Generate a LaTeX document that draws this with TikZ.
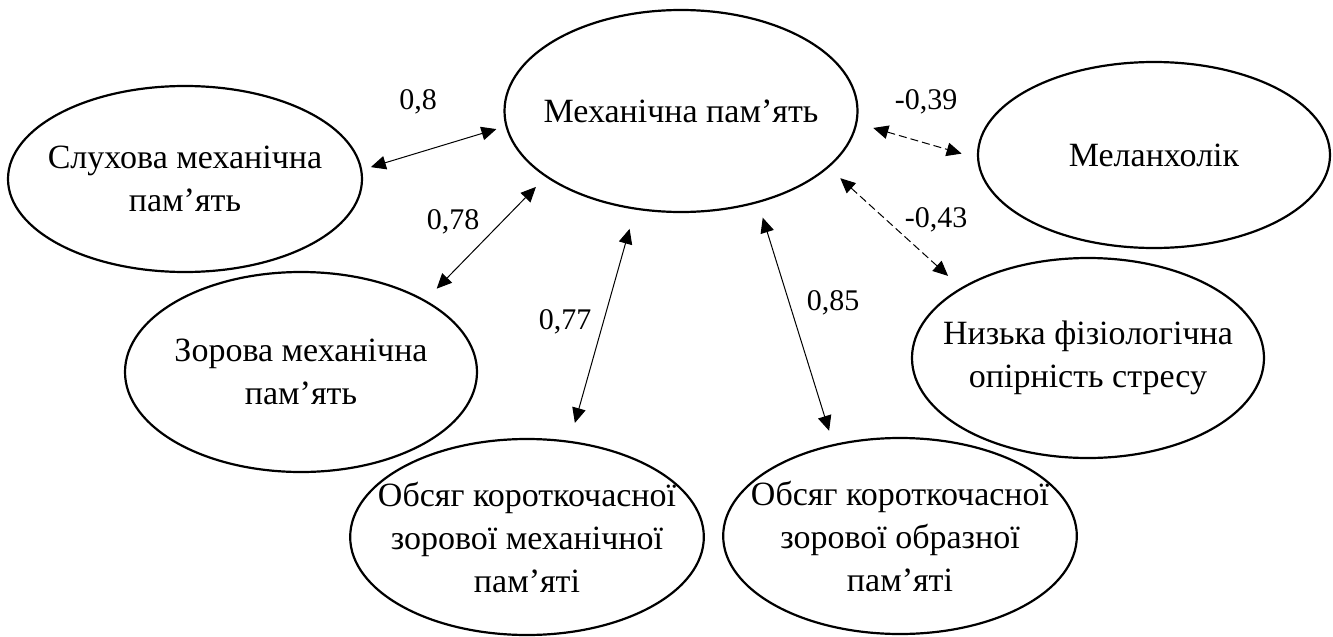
\documentclass[tikz,border=0pt]{standalone}
\usepackage{fontspec}
\setmainfont{Liberation Serif}
\usetikzlibrary{shapes.geometric,arrows.meta}

\begin{document}
\begin{tikzpicture}[
  x=0.5pt, y=-0.5pt,
  enode/.style={ellipse, draw, line width=1.1pt, inner xsep=-12pt, inner ysep=0pt,
    align=center, minimum width=176pt, minimum height=100pt,
    font=\fontsize{17}{21.5}\selectfont},
  wnum/.style={font=\fontsize{15}{18}\selectfont},
  link/.style={<->, line width=0.5pt},
  neg/.style={dash pattern=on 4pt off 2pt},
  >={Triangle[length=7.5pt,width=6.8pt]}
]
  \useasboundingbox (0,0) rectangle (1333,637);

  \node[enode, minimum width=176.5pt, minimum height=101pt] (mech) at (681,111) {Механічна пам’ять};
  \node[enode, minimum width=177pt, minimum height=93pt] (sluh) at (185,179) {Слухова механічна\\пам’ять};
  \node[enode] (zor) at (301,372) {Зорова механічна\\пам’ять};
  \node[enode, minimum width=175pt, minimum height=98pt] (obmech) at (527,537) {Обсяг короткочасної\\зорової механічної\\пам’яті};
  \node[enode, minimum width=175pt, minimum height=98pt] (obobr) at (900,536) {Обсяг короткочасної\\зорової образної\\пам’яті};
  \node[enode] (nyz) at (1088,358) {Низька фізіологічна\\опірність стресу};
  \node[enode, minimum height=93pt] (mel) at (1154,155) {Меланхолік};

  \draw[link, shorten <=4.5pt, shorten >=4.7pt] (sluh.3) -- (mech.185);
  \draw[link, shorten <=6.9pt, shorten >=8pt] (mech.206) -- (zor.30);
  \draw[link, shorten <=10pt, shorten >=9.3pt] (mech.245) -- (obmech.66);
  \draw[link, shorten <=7.7pt, shorten >=7pt] (mech.310) -- (obobr.126);
  \draw[link, neg, shorten <=8.3pt, shorten >=8pt] (mech.356) -- (mel.181);
  \draw[link, neg, shorten <=7.8pt, shorten >=8.7pt] (mech.339) -- (nyz.151);

  \node[wnum] (w1) at (418,102) {0,8};
  \node[wnum] (w2) at (453,222) {0,78};
  \node[wnum] (w3) at (565,322) {0,77};
  \node[wnum] (w4) at (833,303) {0,85};
  \node[wnum] (w5) at (926,102) {-0,39};
  \node[wnum] (w6) at (936,220) {-0,43};
\end{tikzpicture}
\end{document}
